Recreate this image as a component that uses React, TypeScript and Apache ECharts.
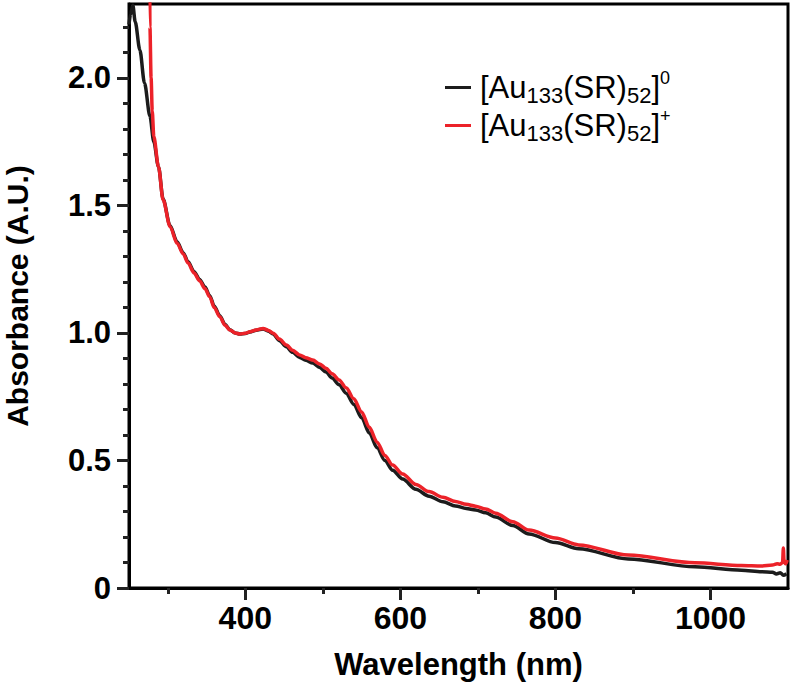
import React, { useEffect, useRef } from "react";
import * as echarts from "echarts";

const SERIES_NAMES = ["[Au133(SR)52]0", "[Au133(SR)52]+"];
const SERIES_COLORS = ["#1c1c1c", "#ec2229"];

const WL_NEUTRAL = [
  250, 252, 255, 258, 264, 270, 277, 282, 288, 294, 303, 312, 320, 326, 334, 341,
  348, 354, 360, 367, 374, 380, 387, 393, 400, 406, 414, 423, 430, 436, 444, 453,
  461, 470, 478, 487, 496, 504, 512, 521, 530, 540, 550, 560, 570, 580, 590, 603,
  620, 637, 655, 671, 685, 697, 710, 723, 745, 766, 800, 830, 894, 980, 1040, 1066,
  1080, 1085, 1090, 1094, 1098,
];
const ABS_NEUTRAL = [
  2.21, 2.25, 2.285, 2.22, 2.11, 1.98, 1.85, 1.75, 1.652, 1.525, 1.42, 1.358, 1.314,
  1.28, 1.24, 1.21, 1.18, 1.147, 1.105, 1.068, 1.033, 1.013, 1.0, 0.996, 0.998, 1.004,
  1.011, 1.016, 1.007, 0.996, 0.97, 0.946, 0.924, 0.904, 0.893, 0.882, 0.865, 0.847,
  0.823, 0.797, 0.764, 0.72, 0.668, 0.608, 0.55, 0.5, 0.462, 0.427, 0.387, 0.36,
  0.338, 0.322, 0.312, 0.306, 0.295, 0.278, 0.245, 0.212, 0.178, 0.154, 0.114, 0.083,
  0.07, 0.064, 0.062, 0.055, 0.06, 0.05, 0.056,
];

const WL_CATION = [
  276.5, 277, 278.5, 280, 282, 288, 294, 303, 312, 320, 326, 334, 341, 348, 354, 360,
  367, 374, 380, 387, 393, 400, 406, 414, 423, 430, 436, 444, 453, 461, 470, 478, 487,
  496, 504, 512, 521, 530, 540, 550, 560, 570, 580, 590, 603, 620, 637, 655, 671, 685,
  697, 710, 723, 745, 766, 800, 830, 894, 980, 1040, 1066, 1080, 1086, 1090, 1093,
  1094, 1095, 1097, 1099,
];
const ABS_CATION = [
  2.6, 2.2, 2.0, 1.87, 1.77, 1.652, 1.522, 1.417, 1.352, 1.31, 1.275, 1.235, 1.205,
  1.174, 1.142, 1.1, 1.064, 1.03, 1.012, 1.0, 0.996, 0.999, 1.005, 1.012, 1.018, 1.01,
  0.999, 0.976, 0.953, 0.932, 0.914, 0.903, 0.894, 0.878, 0.862, 0.84, 0.816, 0.785,
  0.742, 0.69, 0.63, 0.572, 0.52, 0.482, 0.447, 0.406, 0.378, 0.356, 0.339, 0.328,
  0.321, 0.31, 0.293, 0.26, 0.227, 0.196, 0.169, 0.129, 0.099, 0.088, 0.086, 0.09,
  0.095, 0.093, 0.1, 0.157, 0.1, 0.095, 0.11,
];

const X_MAJOR = [400, 600, 800, 1000];
const X_MINOR = [300, 500, 700, 900];
const Y_MAJOR = [0, 0.5, 1.0, 1.5, 2.0];
const Y_MINOR = [
  0.1, 0.2, 0.3, 0.4, 0.6, 0.7, 0.8, 0.9, 1.1, 1.2, 1.3, 1.4, 1.6, 1.7, 1.8, 1.9, 2.1, 2.2,
];

const X_MIN = 250;
const X_MAX = 1100;
const Y_MIN = 0;
const Y_MAX = 2.29;

const FONT = "'Liberation Sans', Arial, Helvetica, sans-serif";

function pairs(xs: number[], ys: number[]) {
  return xs.map((x, i) => [x, ys[i]]);
}

function legendLabel(name: string) {
  const charge = name.endsWith("+") ? "+" : "0";
  return `{m|[Au}{s|133}{m|(SR)}{s|52}{m|]}{p|${charge}}`;
}

export default function App() {
  const ref = useRef<HTMLDivElement>(null);

  useEffect(() => {
    if (!ref.current) return;
    const chart = echarts.init(ref.current, null, { renderer: "svg" });

    const tickStyle = { color: "#222", width: 3 };
    const axisLine = { show: true, onZero: false, lineStyle: { color: "#000", width: 3 } };

    const option: any = {
      animation: false,
      backgroundColor: "#fff",
      grid: {
        left: 129,
        right: 8,
        top: 4,
        bottom: 103,
        show: true,
        borderColor: "#000",
        borderWidth: 3,
        outerBoundsMode: "none",
      },
      legend: {
        orient: "vertical",
        left: 440,
        top: 64,
        itemWidth: 26,
        itemHeight: 3,
        itemGap: 1,
        icon: "rect",
        data: SERIES_NAMES,
        formatter: legendLabel,
        textStyle: {
          padding: [0, 0, 0, 4],
          rich: {
            m: { fontFamily: FONT, fontSize: 31, color: "#000", lineHeight: 37 },
            s: {
              fontFamily: FONT,
              fontSize: 22,
              color: "#000",
              lineHeight: 21,
              verticalAlign: "bottom",
            },
            p: {
              fontFamily: FONT,
              fontSize: 18,
              color: "#000",
              lineHeight: 18,
              verticalAlign: "top",
            },
          },
        },
      },
      xAxis: [
        {
          type: "value",
          min: X_MIN,
          max: X_MAX,
          position: "bottom",
          name: "Wavelength (nm)",
          nameLocation: "middle",
          nameGap: 61,
          nameTextStyle: { fontFamily: FONT, fontSize: 31, fontWeight: "bold", color: "#000" },
          axisLine,
          splitLine: { show: false },
          axisTick: {
            show: true,
            inside: false,
            length: 12,
            lineStyle: tickStyle,
            customValues: X_MAJOR,
          },
          axisLabel: {
            show: true,
            margin: 14,
            fontFamily: FONT,
            fontSize: 32,
            fontWeight: "bold",
            color: "#000",
            customValues: X_MAJOR,
            formatter: (v: number) => String(v),
          },
        },
        {
          type: "value",
          min: X_MIN,
          max: X_MAX,
          position: "bottom",
          axisLine: { show: false, onZero: false },
          splitLine: { show: false },
          axisLabel: { show: false },
          axisTick: {
            show: true,
            length: 6,
            lineStyle: tickStyle,
            customValues: X_MINOR,
          },
        },
      ],
      yAxis: [
        {
          type: "value",
          min: Y_MIN,
          max: Y_MAX,
          position: "left",
          name: "Absorbance (A.U.)",
          nameLocation: "middle",
          nameGap: 97,
          nameTextStyle: { fontFamily: FONT, fontSize: 30, fontWeight: "bold", color: "#000" },
          axisLine,
          splitLine: { show: false },
          axisTick: {
            show: true,
            length: 12,
            lineStyle: tickStyle,
            customValues: Y_MAJOR,
          },
          axisLabel: {
            show: true,
            margin: 18,
            fontFamily: FONT,
            fontSize: 31,
            fontWeight: "bold",
            color: "#000",
            customValues: Y_MAJOR,
            formatter: (v: number) => (v === 0 ? "0" : v.toFixed(1)),
          },
        },
        {
          type: "value",
          min: Y_MIN,
          max: Y_MAX,
          position: "left",
          axisLine: { show: false, onZero: false },
          splitLine: { show: false },
          axisLabel: { show: false },
          axisTick: {
            show: true,
            length: 6,
            lineStyle: tickStyle,
            customValues: Y_MINOR,
          },
        },
      ],
      series: [
        {
          name: SERIES_NAMES[0],
          type: "line",
          xAxisIndex: 0,
          yAxisIndex: 0,
          data: pairs(WL_NEUTRAL, ABS_NEUTRAL),
          showSymbol: false,
          smooth: 0.3,
          smoothMonotone: "x",
          clip: true,
          color: SERIES_COLORS[0],
          lineStyle: { color: SERIES_COLORS[0], width: 3.5 },
          z: 2,
        },
        {
          name: SERIES_NAMES[1],
          type: "line",
          xAxisIndex: 0,
          yAxisIndex: 0,
          data: pairs(WL_CATION, ABS_CATION),
          showSymbol: false,
          smooth: 0.3,
          smoothMonotone: "x",
          clip: true,
          color: SERIES_COLORS[1],
          lineStyle: { color: SERIES_COLORS[1], width: 3.5 },
          z: 3,
        },
      ],
    };

    chart.setOption(option);
    return () => chart.dispose();
  }, []);

  return (
    <div
      ref={ref}
      style={{ position: "fixed", left: 0, top: 0, width: 796, height: 691, background: "#fff" }}
    />
  );
}
